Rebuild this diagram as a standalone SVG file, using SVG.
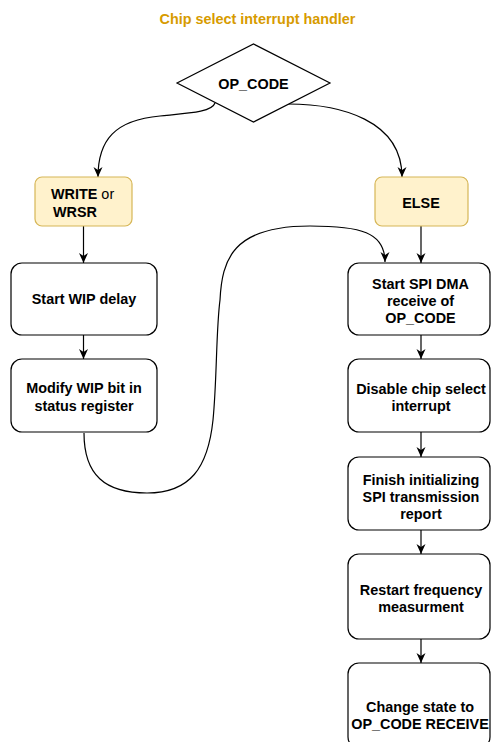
<svg xmlns="http://www.w3.org/2000/svg" width="491" height="742" viewBox="0 0 491 742">
<style>
text{font-family:"Liberation Sans",Arial,sans-serif;font-size:14.4px;font-weight:bold;fill:#000}
.t{text-anchor:middle}
.box{fill:#fff;stroke:#000;stroke-width:1.2}
.dec{fill:#fff2cc;stroke:#d6b656;stroke-width:1.2}
.edge{fill:none;stroke:#000;stroke-width:1.2;marker-end:url(#arr)}
</style>
<defs>
<marker id="arr" markerUnits="userSpaceOnUse" markerWidth="11" markerHeight="10" refX="10" refY="4.5" orient="auto">
<path d="M0,0 L10,4.5 L0,9 L3,4.5 z" fill="#000"/>
</marker>
</defs>
<rect width="491" height="742" fill="#fff"/>
<text id="title" class="t" x="257.5" y="24" style="fill:#d79b00">Chip select interrupt handler</text>
<g id="connectors">
<path class="edge" d="M215,103 C212,112 190,113 160,116 C115,120 98,140 98,177"/>
<path class="edge" d="M288,104 C340,104 402,120 402,177"/>
<path class="edge" d="M83.5,226 L83.5,263"/>
<path class="edge" d="M83.5,335 L83.5,359"/>
<path class="edge" d="M84,433 C84,475 105,493 147,493 C190,493 208,468 213,420 C217,380 216,330 220,300 C222,260 232,226 310,226 C360,226 385,232 385,262"/>
<path class="edge" d="M421,226 L421,263"/>
<path class="edge" d="M421,335 L421,359"/>
<path class="edge" d="M421,432 L421,457"/>
<path class="edge" d="M421,530 L421,554"/>
<path class="edge" d="M421,639 L421,663"/>
</g>
<g id="opcode">
<polygon points="177,83 253.5,44 330,83 253.5,122" style="fill:#fff;stroke:#000;stroke-width:1.2"/>
<text class="t" x="253.5" y="89">OP_CODE</text>
</g>
<g id="write">
<rect class="dec" x="35" y="177" width="97" height="49" rx="7"/>
<text x="51" y="199">WRITE<tspan font-weight="normal"> or</tspan></text>
<text x="53" y="216.5">WRSR</text>
</g>
<g id="else">
<rect class="dec" x="375" y="177" width="93" height="49" rx="7"/>
<text class="t" x="421" y="207.5">ELSE</text>
</g>
<g id="startwip">
<rect class="box" x="11" y="263" width="146" height="72" rx="11"/>
<text class="t" x="84" y="304">Start WIP delay</text>
</g>
<g id="modifywip">
<rect class="box" x="11" y="359" width="146" height="73" rx="11"/>
<text class="t" x="84" y="393">Modify WIP bit in</text>
<text class="t" x="84" y="410.5">status register</text>
</g>
<g id="startspi">
<rect class="box" x="348" y="263" width="142" height="72" rx="11"/>
<text class="t" x="420.5" y="288.5">Start SPI DMA</text>
<text class="t" x="420.5" y="305.5">receive of</text>
<text class="t" x="420.5" y="322.5">OP_CODE</text>
</g>
<g id="disable">
<rect class="box" x="348" y="359" width="142" height="73" rx="11"/>
<text class="t" x="421" y="394">Disable chip select</text>
<text class="t" x="421" y="411">interrupt</text>
</g>
<g id="finish">
<rect class="box" x="348" y="457" width="142" height="73" rx="11"/>
<text class="t" x="421" y="484.5">Finish initializing</text>
<text class="t" x="421" y="501.5">SPI transmission</text>
<text class="t" x="421" y="518.5">report</text>
</g>
<g id="restart">
<rect class="box" x="348" y="554" width="142" height="85" rx="11"/>
<text class="t" x="421" y="594.5">Restart frequency</text>
<text class="t" x="421" y="611.5">measurment</text>
</g>
<g id="changestate">
<rect class="box" x="348" y="663" width="142" height="85" rx="11"/>
<text class="t" x="420" y="711.5">Change state to</text>
<text class="t" x="420" y="728.5">OP_CODE RECEIVE</text>
</g>
</svg>
